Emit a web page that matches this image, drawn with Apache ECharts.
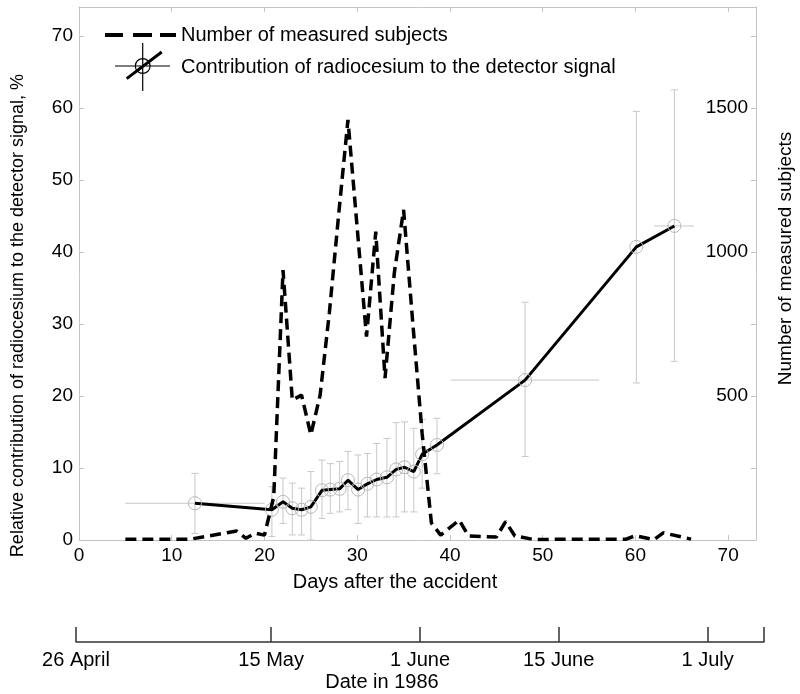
<!DOCTYPE html>
<html><head><meta charset="utf-8">
<script src="https://cdn.jsdelivr.net/npm/echarts@6/dist/echarts.min.js"></script>
<style>html,body{margin:0;padding:0;background:#fff}#main{width:800px;height:694px}</style>
</head><body><div id="main"></div>
<script>
// ---- data ----
// Contribution of radiocesium (%), with vertical and (some) horizontal error bars
const rcDays   = [12.5, 20.8, 22, 23, 24, 25, 26.2, 27.1, 28.1, 29, 30.1, 31.1, 32.1, 33.2, 34.2, 35.1, 36.1, 37, 38.6, 48.1, 60.1, 64.2];
const rcValues = [5.1, 4.2, 5.3, 4.4, 4.2, 4.6, 6.9, 7.0, 7.1, 8.3, 7.0, 7.8, 8.4, 8.7, 9.8, 10.1, 9.5, 11.9, 13.2, 22.2, 40.7, 43.6];
const rcLow    = [0.9, 0.5, 2.3, 0.7, 0.7, 0.0, 3.0, 3.7, 3.9, 4.2, 2.3, 3.2, 3.2, 3.2, 3.2, 3.9, 3.9, 7.2, 9.2, 11.6, 21.8, 24.8];
const rcHigh   = [9.25, 7.4, 8.6, 7.9, 7.2, 9.5, 11.1, 10.6, 10.9, 12.3, 11.8, 12.0, 13.4, 14.1, 16.3, 16.4, 15.5, 16.7, 16.9, 33.0, 59.5, 62.5];
const rcXLow   = [5.0, null, null, null, null, null, null, null, null, null, null, null, null, null, null, null, null, null, null, 40.1, null, 62.0];
const rcXHigh  = [20.0, null, null, null, null, null, null, null, null, null, null, null, null, null, null, null, null, null, null, 56.1, null, 66.3];
// Number of measured subjects
const subjDays   = [5, 12, 17, 18, 19, 20, 21, 22, 23, 24, 25, 26, 27, 28, 29, 31, 32, 33, 34, 35, 36, 37, 38, 39, 41, 42, 45, 46, 47, 49, 59, 60, 62, 63, 66];
const subjCounts = [3, 3, 31, 6, 24, 17, 150, 937, 486, 503, 365, 503, 790, 1130, 1458, 706, 1070, 562, 927, 1146, 750, 370, 59, 17, 69, 14, 10, 64, 14, 2, 3, 15, 1, 25, 3];
// Axis ticks
const dayTicks = [0, 10, 20, 30, 40, 50, 60, 70];
const pctTicks = [0, 10, 20, 30, 40, 50, 60, 70];
const subjTicks = [250, 500, 750, 1000, 1250, 1500, 1750];
const subjTickLabels = [500, 1000, 1500];
const dateTickPos    = [0, 21.1, 37.2, 52.2, 68.3];
const dateTickLabels = ['26 April', '15 May', '1 June', '15 June', '1 July'];
const dateAxisEnd = 74.4;

const FONT = 'Liberation Sans, Arial, sans-serif';
const FRAME = '#c4c4c4';
const SER_RC = 'Contribution of radiocesium to the detector signal';
const SER_SUBJ = 'Number of measured subjects';

const rcLine = rcDays.map((d, i) => [d, rcValues[i]]);
const rcErr = rcDays.map((d, i) => [d, rcValues[i], rcLow[i], rcHigh[i],
  rcXLow[i] == null ? d : rcXLow[i], rcXHigh[i] == null ? d : rcXHigh[i]]);
const subjLine = subjDays.map((d, i) => [d, subjCounts[i]]);

const crossIcon = 'path://M0 22.4H55V23.6H0Z M27.1 0H28.3V48H27.1Z ' +
  'M19.7 23A8 8 0 1 1 35.7 23A8 8 0 1 1 19.7 23Z M20.9 23A6.8 6.8 0 1 0 34.5 23A6.8 6.8 0 1 0 20.9 23Z ' +
  'M10.8 34.4L45.8 7.8L47.6 10.2L12.6 36.8Z';
const dashIcon = 'path://M0 0H18V4H0Z M28 0H47V4H28Z M55 0H71V4H55Z';

const chart = echarts.init(document.getElementById('main'), null, {renderer: 'canvas'});
const frameLine = {show: true, onZero: false, lineStyle: {color: FRAME, width: 1}};
const frameTick = vals => ({show: true, inside: true, length: 5, customValues: vals, lineStyle: {color: FRAME}});
chart.setOption({
  animation: false,
  backgroundColor: '#fff',
  textStyle: {fontFamily: FONT},
  grid: [
    {left: 79, right: 44, top: 7, bottom: 154, outerBoundsMode: 'none', containLabel: false},
    {left: 76, right: 36, top: 641, height: 1, outerBoundsMode: 'none', containLabel: false}
  ],
  legend: [
    {left: 105, top: 25, padding: 0, orient: 'vertical', itemWidth: 71, itemHeight: 4,
     textStyle: {fontSize: 20, color: '#000', fontFamily: FONT},
     selectedMode: false,
     data: [{name: SER_SUBJ, icon: dashIcon, itemStyle: {color: '#000', borderWidth: 0}}]},
    {left: 115, top: 43, padding: 0, orient: 'vertical', itemWidth: 55, itemHeight: 48,
     textStyle: {fontSize: 20, color: '#000', fontFamily: FONT, padding: [18, 0, 0, 6]},
     selectedMode: false,
     data: [{name: SER_RC, icon: crossIcon, itemStyle: {color: '#000', borderWidth: 0, opacity: 1}}]}
  ],
  xAxis: [
    {gridIndex: 0, type: 'value', min: 0, max: 73, interval: 10, position: 'bottom',
      axisLine: frameLine, axisTick: frameTick(dayTicks), splitLine: {show: false},
      axisLabel: {color: '#000', fontSize: 19, margin: 6, fontFamily: FONT, customValues: dayTicks, formatter: v => String(v)},
      name: 'Days after the accident', nameLocation: 'middle', nameGap: 32,
      nameTextStyle: {fontSize: 20, color: '#000', fontFamily: FONT, padding: [0, 45, 0, 0]}},
    {gridIndex: 0, type: 'value', min: 0, max: 73, interval: 10, position: 'top',
      axisLine: frameLine, axisTick: frameTick(dayTicks), splitLine: {show: false},
      axisLabel: {show: false}},
    {gridIndex: 1, type: 'value', min: 0, max: dateAxisEnd, position: 'bottom',
      axisLine: {show: true, onZero: false, lineStyle: {color: '#333', width: 1.5}},
      axisTick: {show: true, inside: true, length: 15, customValues: dateTickPos.concat([dateAxisEnd]),
        lineStyle: {color: '#333', width: 1.5}},
      axisLabel: {show: true, customValues: dateTickPos, color: '#000', fontSize: 20, margin: 8, fontFamily: FONT,
        formatter: v => {
          let best = 0;
          dateTickPos.forEach((p, i) => { if (Math.abs(p - v) < Math.abs(dateTickPos[best] - v)) best = i; });
          return dateTickLabels[best];
        }},
      splitLine: {show: false},
      name: 'Date in 1986', nameLocation: 'middle', nameGap: 30,
      nameTextStyle: {fontSize: 20, color: '#000', fontFamily: FONT, padding: [0, 76, 0, 0]}}
  ],
  yAxis: [
    {gridIndex: 0, type: 'value', min: 0, max: 74, interval: 10, position: 'left',
      axisLine: frameLine, axisTick: frameTick(pctTicks), splitLine: {show: false},
      axisLabel: {color: '#000', fontSize: 19, margin: 6, fontFamily: FONT, customValues: pctTicks, formatter: v => String(v)},
      name: 'Relative contribution of radiocesium to the detector signal, %', nameLocation: 'middle', nameGap: 52,
      nameTextStyle: {fontSize: 18, color: '#000', fontFamily: FONT, padding: [0, 84, 0, 0]}},
    {gridIndex: 0, type: 'value', min: 0, max: 1850, interval: 250, position: 'right',
      axisLine: frameLine, axisTick: frameTick(subjTicks), splitLine: {show: false},
      axisLabel: {inside: true, color: '#000', fontSize: 19, margin: 8, fontFamily: FONT, customValues: subjTickLabels, formatter: v => String(v)},
      name: SER_SUBJ, nameLocation: 'middle', nameGap: 20,
      nameTextStyle: {fontSize: 19, color: '#000', fontFamily: FONT, padding: [0, 0, 0, 30]}},
    {gridIndex: 1, type: 'value', show: false}
  ],
  series: [
    {
      type: 'custom', name: 'errbars', xAxisIndex: 0, yAxisIndex: 0, silent: true, z: 1,
      data: rcErr,
      encode: {x: [0, 4, 5], y: [1, 2, 3]},
      renderItem: (params, api) => {
        const x = api.value(0), y = api.value(1), lo = api.value(2), hi = api.value(3);
        const xl = api.value(4), xh = api.value(5);
        const pl = api.coord([x, lo]), ph = api.coord([x, hi]);
        const st = {stroke: '#c8c8c8', lineWidth: 1};
        const cw = 3.5;
        const ch = [
          {type: 'line', shape: {x1: pl[0], y1: pl[1], x2: ph[0], y2: ph[1]}, style: st},
          {type: 'line', shape: {x1: pl[0] - cw, y1: pl[1], x2: pl[0] + cw, y2: pl[1]}, style: st},
          {type: 'line', shape: {x1: ph[0] - cw, y1: ph[1], x2: ph[0] + cw, y2: ph[1]}, style: st}
        ];
        if (xh > xl) {
          const a = api.coord([xl, y]), b = api.coord([xh, y]);
          ch.push({type: 'line', shape: {x1: a[0], y1: a[1], x2: b[0], y2: b[1]}, style: st});
        }
        return {type: 'group', children: ch};
      }
    },
    {
      type: 'line', name: SER_SUBJ, xAxisIndex: 0, yAxisIndex: 1, z: 3,
      data: subjLine, symbol: 'none', showSymbol: false,
      lineStyle: {color: '#000', width: 3.5, type: [11, 6]},
      itemStyle: {color: '#000'}
    },
    {
      type: 'line', name: SER_RC, xAxisIndex: 0, yAxisIndex: 0, z: 2,
      data: rcLine, symbol: 'circle', symbolSize: 13, showSymbol: true,
      lineStyle: {color: '#000', width: 3},
      itemStyle: {color: 'rgba(255,255,255,0)', borderColor: '#b8b8b8', borderWidth: 1}
    }
  ]
});
</script></body></html>
